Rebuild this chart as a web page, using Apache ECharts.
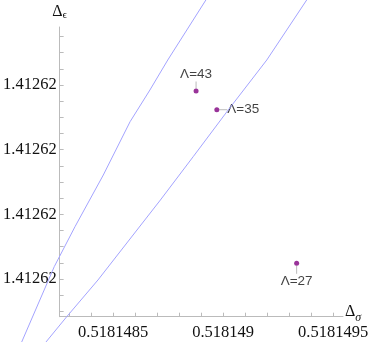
<!DOCTYPE html>
<html>
<head>
<meta charset="utf-8">
<script src="https://cdn.jsdelivr.net/npm/echarts@6/dist/echarts.min.js"></script>
<style>
  html, body { margin: 0; padding: 0; background: #fff; }
  #chart { width: 374px; height: 342px; }
</style>
</head>
<body>
<div id="chart"></div>
<script>
// points (Λ, Δσ, Δε)
const pointNames = ['Λ=43', 'Λ=35', 'Λ=27'];
const pointX = [0.518148886, 0.518148979, 0.518149337];
const pointY = [1.4126214536, 1.4126213090, 1.4126201214];

// left boundary curve
const curve1X = [0.518148085, 0.518148104, 0.518148250, 0.518148343, 0.518148470, 0.518148590, 0.518148679, 0.518148759, 0.518148930, 0.518148966];
const curve1Y = [1.4126194356, 1.4126195129, 1.4126200951, 1.4126204044, 1.4126208041, 1.4126212162, 1.4126214613, 1.4126216933, 1.4126221572, 1.4126222500];

// right boundary curve
const curve2X = [0.518148175, 0.518148213, 0.518148306, 0.518148446, 0.518148726, 0.518148873, 0.518149030, 0.518149203, 0.518149382, 0.518149419];
const curve2Y = [1.4126194356, 1.4126195129, 1.4126197085, 1.4126199923, 1.4126206108, 1.4126209456, 1.4126213067, 1.4126216933, 1.4126221572, 1.4126222500];

// ticks
const xTicks = [0.5181483, 0.5181484, 0.5181485, 0.5181486, 0.5181487, 0.5181488, 0.5181489, 0.518149, 0.5181491, 0.5181492, 0.5181493, 0.5181494, 0.5181495];
const xLabels = [0.5181485, 0.518149, 0.5181495];
const yTicks = [1.41261975, 1.412619875, 1.41262, 1.412620125, 1.41262025, 1.412620375, 1.4126205, 1.412620625, 1.41262075, 1.412620875, 1.412621, 1.412621125, 1.41262125, 1.412621375, 1.4126215, 1.412621625, 1.41262175, 1.412621875];
const yLabels = [1.41262, 1.4126205, 1.412621, 1.4126215];

const zip = (xs, ys) => xs.map((x, i) => [x, ys[i]]);

const chart = echarts.init(document.getElementById('chart'), null, { width: 374, height: 342 });

const axisColor = '#bbbbbb';
const textColor = '#111111';
const labelFont = { fontFamily: 'Liberation Serif', fontSize: 16.5, color: textColor };

// label offsets for the three points
const labelShift = [{ dx: 0, dy: -6 }, { dx: 7, dy: 0 }, { dx: 0, dy: 7 }];

chart.setOption({
  animation: false,
  grid: [
    // visible axes
    { left: 55.7, right: 31, top: 27, bottom: 25.3 },
    // whole plot area (same scale), so curves run past the axes
    { left: 0, right: 31, top: 0, bottom: 0 }
  ],
  xAxis: [
    {
      type: 'value',
      gridIndex: 0,
      min: 0.518148257,
      max: 0.51814954484,
      name: '{d|Δ}{s|σ}',
      nameLocation: 'end',
      nameGap: 2,
      nameTextStyle: {
        rich: {
          d: { fontFamily: 'Liberation Serif', fontSize: 16, color: textColor, padding: [0, 0, 10, 0] },
          s: { fontFamily: 'Liberation Serif', fontSize: 12, fontStyle: 'italic', color: textColor, padding: [2, 0, 0, 0] }
        }
      },
      axisLine: { lineStyle: { color: axisColor, width: 1 } },
      axisTick: { inside: true, length: 4, customValues: xTicks, lineStyle: { color: axisColor } },
      axisLabel: {
        customValues: xLabels,
        margin: 7,
        formatter: v => String(v),
        ...labelFont
      },
      splitLine: { show: false }
    },
    {
      type: 'value',
      gridIndex: 1,
      min: 0.51814800673,
      max: 0.51814954484,
      show: false
    }
  ],
  yAxis: [
    {
      type: 'value',
      gridIndex: 0,
      min: 1.4126197085,
      max: 1.4126219485,
      name: '{d|Δ}{s|ϵ}',
      nameLocation: 'end',
      nameGap: 6,
      nameTextStyle: {
        rich: {
          d: { fontFamily: 'Liberation Serif', fontSize: 16, color: textColor },
          s: { fontFamily: 'Liberation Serif', fontSize: 11, color: textColor, padding: [8, 0, 0, 0] }
        }
      },
      axisLine: { lineStyle: { color: axisColor, width: 1 } },
      axisTick: { inside: true, length: 4, customValues: yTicks, lineStyle: { color: axisColor } },
      axisLabel: {
        customValues: yLabels,
        margin: 3,
        formatter: v => v.toPrecision(6),
        ...labelFont
      },
      splitLine: { show: false }
    },
    {
      type: 'value',
      gridIndex: 1,
      min: 1.41261951288,
      max: 1.41262215723,
      show: false
    }
  ],
  series: [
    {
      type: 'line',
      xAxisIndex: 1,
      yAxisIndex: 1,
      data: zip(curve1X, curve1Y),
      showSymbol: false,
      clip: false,
      lineStyle: { color: '#a3a3ff', width: 1 }
    },
    {
      type: 'line',
      xAxisIndex: 1,
      yAxisIndex: 1,
      data: zip(curve2X, curve2Y),
      showSymbol: false,
      clip: false,
      lineStyle: { color: '#a3a3ff', width: 1 }
    },
    {
      type: 'scatter',
      xAxisIndex: 1,
      yAxisIndex: 1,
      symbolSize: 5,
      itemStyle: { color: '#800080' },
      data: pointNames.map((n, i) => ({
        name: n,
        value: [pointX[i], pointY[i]],
        label: { position: ['top', 'right', 'bottom'][i] }
      })),
      label: {
        show: true,
        distance: 1,
        formatter: p => p.name,
        fontFamily: 'Liberation Sans',
        fontSize: 13.5,
        color: textColor
      },
      labelLine: { show: true, lineStyle: { color: '#bbbbbb', width: 1 } },
      labelLayout: p => labelShift[p.dataIndex]
    }
  ]
});
</script>
</body>
</html>
